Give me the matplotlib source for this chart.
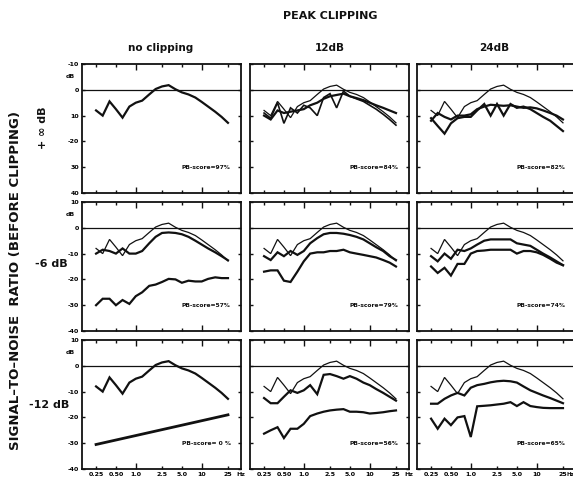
import matplotlib
matplotlib.use("Agg")
import matplotlib.pyplot as plt
from matplotlib.ticker import NullLocator

# ---------------- data ----------------
freqs = [0.25, 0.315, 0.4, 0.5, 0.63, 0.8, 1.0, 1.25, 1.6, 2.0, 2.5,
         3.15, 4.0, 5.0, 6.3, 8.0, 10.0, 12.5, 16.0, 20.0, 25.0]

# undistorted speech envelope spectrum (reference)
ref_speech = [-8, -10, -4.5, -7.5, -10.8, -6.5, -5, -4.2, -1.8, 0.3, 1.3,
              1.8, 0.2, -1, -1.8, -3, -4.7, -6.5, -8.5, -10.5, -12.8]

# +inf dB SNR, 12 dB clipping
clip12_a = [-9, -11, -5, -13, -7, -9, -6, -7, -10, -3, -1.5,
            -7, -0.5, -2.5, -3.5, -4.5, -6, -7.5, -9.5, -11.5, -13.7]
clip12_b = [-10, -11.5, -8, -9, -8.5, -8, -7.5, -6, -5, -3.5, -2.5,
            -2, -1.5, -2.5, -3.2, -4, -5, -6, -7, -8, -9]
# +inf dB SNR, 24 dB clipping
clip24_a = [-11, -14, -17, -13, -11, -10.5, -10.5, -8, -5.5, -10, -5.5,
            -10, -5.5, -7, -6.5, -7.5, -9, -10.5, -12, -14, -16]
clip24_b = [-12, -9, -10.5, -11.5, -10, -10, -9.5, -7.5, -6.5, -5.8, -6,
            -6.2, -6, -6.5, -7, -6.8, -7.2, -8, -9, -10, -11.5]

# -6 dB SNR
snr6_noclip = [-10, -8.5, -9, -10, -8, -10, -10, -9, -6, -3.5, -2,
               -1.8, -2, -2.5, -3.5, -5, -6.5, -8, -9.5, -11, -12.6]
snr6_noise = [-30, -27.5, -27.5, -30, -28, -29.5, -26.5, -25, -22.5, -22, -21,
              -19.8, -20, -21.3, -20.5, -20.8, -20.8, -19.8, -19.2, -19.5, -19.5]
snr6_clip12_a = [-11, -12.5, -9.5, -11, -9, -10.5, -9, -6, -4, -2.5, -2,
                 -2, -2.3, -2.8, -3.5, -4.5, -6, -7.5, -9, -11, -12.5]
snr6_clip12_b = [-17, -16.5, -16.5, -20.5, -21, -17, -13, -10, -9.5, -9.5, -9,
                 -9, -8.5, -9.5, -10, -10.5, -11, -11.5, -12.5, -13.5, -15]
snr6_clip24_a = [-11, -13, -10, -12, -8.5, -9, -8, -6.5, -5, -4.5, -4.5,
                 -4.5, -4.5, -6, -6.5, -7, -8.5, -10, -11.5, -13, -14.5]
snr6_clip24_b = [-15, -17.5, -15.5, -18.5, -14, -14, -10, -9, -8.8, -8.5, -8.5,
                 -8.5, -8.5, -10, -9, -9, -9.5, -10.5, -12, -13.5, -14.5]

# -12 dB SNR
noise_line_freqs = [0.25, 25.0]
noise_line_vals = [-30.5, -19]
snr12_clip12_a = [-12.5, -14.5, -14.5, -12, -9.5, -10.5, -9.5, -7.5, -11, -3.5, -3.2,
                  -4, -5, -4, -5, -6.5, -7.5, -9, -10.5, -12, -13.5]
snr12_clip12_b = [-26.3, -25, -23.8, -28, -24.4, -24.4, -22.5, -19.5, -18.5, -17.8, -17.3,
                  -17, -16.8, -17.8, -17.8, -18, -18.5, -18.3, -18, -17.6, -17.3]
snr12_clip24_a = [-14.7, -14.7, -12.8, -11.5, -10.5, -11.5, -8.5, -7.5, -7, -6.4, -6,
                  -5.8, -6, -6.5, -8, -9.5, -10.5, -11.5, -12.5, -13.5, -14.5]
snr12_clip24_b = [-20.5, -24.4, -20.5, -23, -20, -19.5, -27.6, -15.7, -15.5, -15.3, -15,
                  -14.7, -14.1, -15.6, -14.1, -15.6, -16, -16.3, -16.4, -16.4, -16.4]

col_titles = ["no clipping", "12dB", "24dB"]
row_labels = ["+ \u221e dB", "-6 dB", "-12 dB"]
pb_scores = [["PB-score=97%", "PB-score=84%", "PB-score=82%"],
             ["PB-score=57%", "PB-score=79%", "PB-score=74%"],
             ["PB-score= 0 %", "PB-score=56%", "PB-score=65%"]]
x_ticks = [0.25, 0.5, 1.0, 2.5, 5.0, 10.0, 25.0]
x_ticklabels = ["0.25", "0.50", "1.0", "2.5", "5.0", "10", "25"]
y_ticks = [10, 0, -10, -20, -30, -40]
y_ticklabels_rows = [["-10", "0", "10", "-20", "30", "40"],
                     ["10", "0", "-10", "-20", "-30", "-40"],
                     ["10", "0", "-10", "-20", "-30", "-40"]]

# (series, linewidth) per panel
THICK, THIN = 1.6, 0.9
panels = [
    [[(ref_speech, THICK)],
     [(ref_speech, THIN), (clip12_a, 1.2), (clip12_b, THICK)],
     [(ref_speech, THIN), (clip24_a, THICK), (clip24_b, THICK)]],
    [[(ref_speech, THIN), (snr6_noclip, THICK), (snr6_noise, THICK)],
     [(ref_speech, THIN), (snr6_clip12_a, THICK), (snr6_clip12_b, THICK)],
     [(ref_speech, THIN), (snr6_clip24_a, THICK), (snr6_clip24_b, THICK)]],
    [[(ref_speech, THICK)],
     [(ref_speech, THIN), (snr12_clip12_a, THICK), (snr12_clip12_b, THICK)],
     [(ref_speech, THIN), (snr12_clip24_a, THICK), (snr12_clip24_b, THICK)]],
]

# ---------------- layout ----------------
W, H = 573, 479
fig = plt.figure(figsize=(W / 100, H / 100), dpi=100)
fig.patch.set_facecolor("white")
INK = "#111111"

col_left = [82, 250, 417]
row_top = [64, 202, 340]
pw, ph = 159, 129

for r in range(3):
    for c in range(3):
        ax = fig.add_axes([col_left[c] / W, 1 - (row_top[r] + ph) / H, pw / W, ph / H])
        ax.set_xscale("log")
        ax.set_xlim(0.153, 39.4)
        ax.set_ylim(-40, 10)
        for sp in ax.spines.values():
            sp.set_linewidth(1.3)
            sp.set_color(INK)
        ax.axhline(0, color=INK, lw=0.9)
        for vals, lw in panels[r][c]:
            ax.plot(freqs, vals, color=INK, lw=lw, solid_joinstyle="miter")
        if r == 2 and c == 0:
            ax.plot(noise_line_freqs, noise_line_vals, color=INK, lw=2.0)

        ax.xaxis.set_minor_locator(NullLocator())
        ax.set_xticks(x_ticks)
        ax.set_yticks(y_ticks)
        ax.tick_params(axis="both", direction="in", top=True, right=True,
                       color=INK, width=1.0, labelsize=4.5, pad=2)
        ax.tick_params(axis="y", length=2.5)
        for xt, tk in zip(x_ticks, ax.xaxis.get_major_ticks()):
            ln = 4.5 if xt in (1.0, 10.0) else 2.0
            tk.tick1line.set_markersize(ln)
            tk.tick2line.set_markersize(ln)
        if r == 2:
            ax.set_xticklabels(x_ticklabels, fontweight="bold")
            hz_x = 25 * 1.32 if c < 2 else 25 * 1.12
            ax.text(hz_x, -41.2, "Hz", fontsize=4.5 if c < 2 else 4.0,
                    fontweight="bold", ha="left", va="top", color=INK)
        else:
            ax.set_xticklabels([])
        if c == 0:
            ax.set_yticklabels(y_ticklabels_rows[r], fontweight="bold")
            ax.text(0.118, 5, "dB", fontsize=4.5, fontweight="bold",
                    ha="right", va="center", color=INK)
        else:
            ax.set_yticklabels([])
        ax.text(25 * 1.1, -30, pb_scores[r][c], fontsize=4.3, fontweight="bold",
                ha="right", va="center", color=INK)

# ---------------- texts ----------------
def ftext(x, y, s, **kw):
    fig.text(x / W, 1 - y / H, s, color=INK, **kw)

ftext(330, 16, "PEAK CLIPPING", fontsize=8, fontweight="bold", ha="center", va="center")
ftext(161, 48, col_titles[0], fontsize=7.5, fontweight="bold", ha="center", va="center")
ftext(330, 48, col_titles[1], fontsize=7.5, fontweight="bold", ha="center", va="center")
ftext(494, 48, col_titles[2], fontsize=7.5, fontweight="bold", ha="center", va="center")
ftext(16, 280, "SIGNAL\u2013TO\u2013NOISE  RATIO (BEFORE CLIPPING)", fontsize=9.5,
      fontweight="bold", rotation=90, ha="center", va="center")
ftext(43, 128, row_labels[0], fontsize=8, fontweight="bold", rotation=90,
      ha="center", va="center")
ftext(51, 264, row_labels[1], fontsize=8, fontweight="bold", ha="center", va="center")
ftext(49, 405, row_labels[2], fontsize=8, fontweight="bold", ha="center", va="center")

fig.savefig("out.png", dpi=100, facecolor="white")
